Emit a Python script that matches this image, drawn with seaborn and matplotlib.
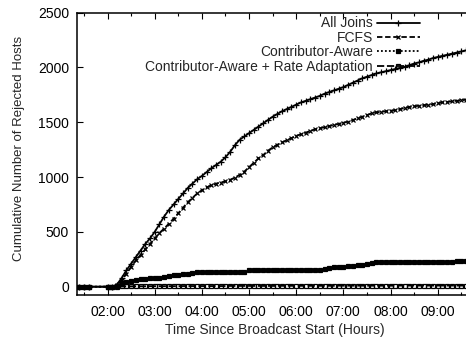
import numpy as np
import pandas as pd
import matplotlib
matplotlib.use("Agg")
import matplotlib.pyplot as plt
import seaborn as sns
from matplotlib.ticker import MultipleLocator, FuncFormatter

sns.set_style("ticks")
plt.rcParams['font.family'] = ['Liberation Sans', 'DejaVu Sans']

# time in hours since broadcast start (sampling gap between 1.6 and 2.0)
hours = [1.4, 1.5, 1.6] + [round(2.0 + 0.1 * i, 1) for i in range(77)]

all_joins = [0, 0, 0, 0, 0,
             20, 80, 150, 210, 270, 330, 390, 440, 500, 570,
             640, 700, 750, 800, 850, 900, 940, 980, 1010, 1045,
             1080, 1110, 1140, 1180, 1230, 1290, 1340, 1370, 1400, 1430,
             1460, 1490, 1520, 1550, 1575, 1600, 1620, 1640, 1660, 1680,
             1695, 1710, 1725, 1740, 1760, 1775, 1790, 1805, 1820, 1840,
             1860, 1880, 1900, 1915, 1930, 1945, 1955, 1965, 1975, 1985,
             1995, 2005, 2020, 2035, 2045, 2060, 2070, 2085, 2095, 2105,
             2115, 2125, 2135, 2145, 2155]

fcfs = [0, 0, 0, 0, 0,
        15, 60, 120, 180, 240, 290, 340, 390, 440, 490,
        530, 575, 620, 670, 720, 770, 810, 850, 880, 905,
        925, 940, 950, 960, 975, 995, 1020, 1050, 1090, 1130,
        1170, 1200, 1240, 1270, 1295, 1315, 1335, 1355, 1375, 1390,
        1405, 1420, 1435, 1445, 1455, 1465, 1475, 1485, 1495, 1505,
        1520, 1535, 1550, 1565, 1580, 1590, 1595, 1600, 1605, 1610,
        1620, 1630, 1640, 1645, 1650, 1655, 1660, 1665, 1675, 1680,
        1685, 1690, 1695, 1700, 1705]

contrib_aware = [0, 0, 0, 0, 0,
                 10, 30, 45, 55, 62, 68, 72, 75, 78, 82,
                 90, 100, 105, 108, 112, 118, 125, 130, 132, 133,
                 133, 134, 134, 134, 135, 135, 135, 135, 148, 150,
                 150, 151, 151, 152, 152, 152, 153, 153, 153, 154,
                 154, 154, 155, 155, 160, 170, 178, 180, 182, 185,
                 188, 195, 200, 210, 218, 222, 223, 224, 224, 225,
                 225, 226, 226, 227, 227, 227, 228, 228, 228, 229,
                 229, 229, 230, 230, 230]

contrib_rate = [0, 0, 0, 0, 0,
                1, 2, 3, 3, 4, 4, 4, 5, 5, 5,
                5, 5, 5, 5, 6, 6, 6, 6, 6, 6,
                6, 6, 6, 6, 7, 7, 7, 7, 7, 7,
                7, 7, 7, 7, 7, 8, 8, 8, 8, 8,
                8, 8, 8, 8, 8, 8, 8, 9, 9, 9,
                9, 9, 9, 9, 9, 9, 9, 9, 9, 9,
                10, 10, 10, 10, 10, 10, 10, 10, 10, 10,
                10, 10, 10, 10, 10]

series = [
    ("All Joins", all_joins, dict(marker='+', markersize=4.5, linestyle='-')),
    ("FCFS", fcfs, dict(marker='x', markersize=3.5, linestyle=(0, (3, 1.5)))),
    ("Contributor-Aware", contrib_aware,
     dict(marker='s', markersize=3, linestyle=(0, (1, 1.2)))),
    ("Contributor-Aware + Rate Adaptation", contrib_rate,
     dict(marker='s', markersize=3.2, fillstyle='none', linestyle=(0, (4, 1.5)))),
]

fig = plt.figure(figsize=(4.66, 3.39), dpi=100)
ax = fig.add_axes([0.166, 0.13, 0.834, 0.833])

for name, vals, st in series:
    sns.lineplot(x=hours, y=vals, ax=ax, color='black', label=name, sort=False)
    line = ax.lines[-1]
    line.set_linewidth(1.3)
    line.set_markeredgewidth(0.9)
    line.set_markeredgecolor('black')
    line.set_markerfacecolor('black')
    for k, v in st.items():
        getattr(line, 'set_' + k)(v)

ax.set_xlim(1.36, 9.6)
ax.set_ylim(-75, 2500)
ax.xaxis.set_major_locator(MultipleLocator(1))
ax.xaxis.set_minor_locator(MultipleLocator(0.5))
ax.xaxis.set_major_formatter(FuncFormatter(lambda h, p: f"{int(round(h)):02d}:00"))
ax.yaxis.set_major_locator(MultipleLocator(500))
ax.tick_params(axis='both', which='both', direction='in', top=True,
               labelsize=10, width=0.8, colors='black')
ax.tick_params(which='major', length=4)
ax.tick_params(which='minor', length=2)
ax.tick_params(axis='x', which='major', pad=7)
ax.tick_params(axis='y', which='major', pad=6)
ax.spines['right'].set_visible(False)
for s in ['left', 'top', 'bottom']:
    ax.spines[s].set_linewidth(1.1)
    ax.spines[s].set_color('black')

ax.set_xlabel("Time Since Broadcast Start (Hours)", fontsize=10)
ax.set_ylabel("Cumulative Number of Rejected Hosts", fontsize=9.5)
ax.xaxis.set_label_coords(0.507, -0.1)
ax.yaxis.set_label_coords(-0.135, 0.52)

ax.legend(loc='upper right', bbox_to_anchor=(420 / 466, 0.9516),
          bbox_transform=fig.transFigure, frameon=False,
          markerfirst=False, fontsize=10, handlelength=3.1, labelspacing=0.03,
          numpoints=1, handletextpad=0.3, borderaxespad=0, borderpad=0)

fig.savefig("out.png", dpi=100)
